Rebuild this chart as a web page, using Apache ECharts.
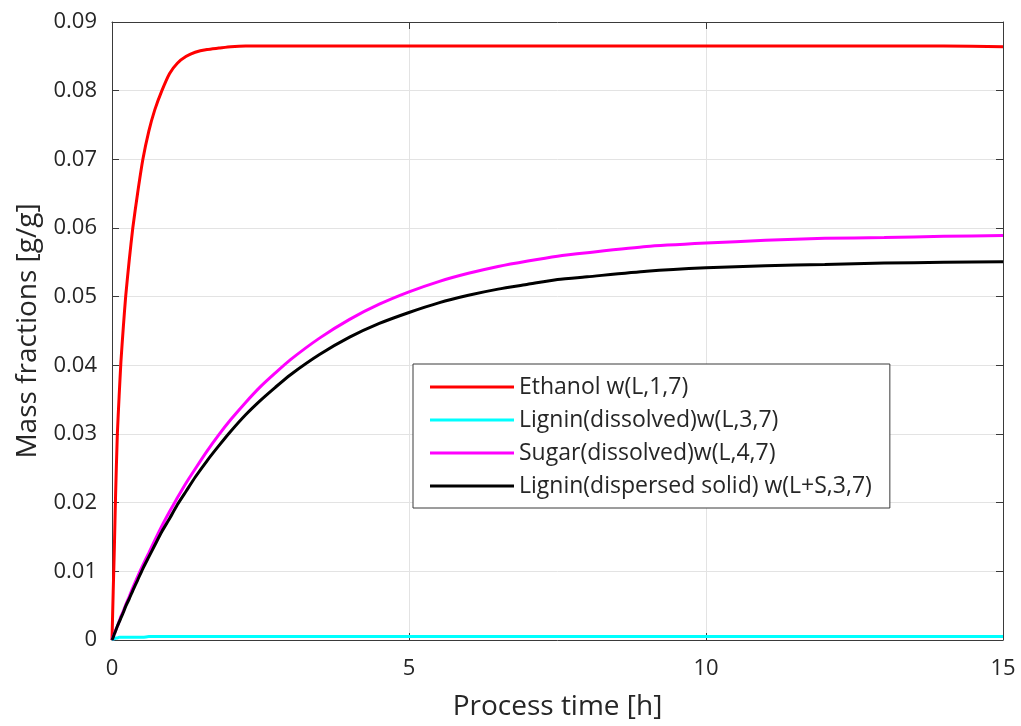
<!DOCTYPE html>
<html>
<head>
<meta charset="utf-8">
<script src="https://cdn.jsdelivr.net/npm/echarts@6/dist/echarts.min.js"></script>
<style>
  html, body { margin: 0; padding: 0; background: #ffffff; }
  #chart { width: 1021px; height: 726px; }
</style>
</head>
<body>
<div id="chart"></div>
<script>
// Process time [h] at which the mass fractions are sampled
const timeH = [0, 0.02, 0.04, 0.06, 0.09, 0.12, 0.15, 0.19, 0.23, 0.29, 0.35, 0.43, 0.52, 0.62, 0.72, 0.84, 0.97, 1.1, 1.25, 1.4, 1.6, 1.8, 2.0, 2.25, 2.5, 2.75, 3.0, 3.5, 4.0, 4.5, 5.0, 5.5, 6, 6.5, 7, 7.5, 8, 9, 10, 11, 12, 13, 14, 15];

// Mass fractions [g/g]
const ethanol = [0, 0.0070, 0.0135, 0.0210, 0.0300, 0.0355, 0.0405, 0.0455, 0.0500, 0.0553, 0.0600, 0.0650, 0.0700, 0.0741, 0.0772, 0.0800, 0.0825, 0.0840, 0.0850, 0.0856, 0.0860, 0.0862, 0.0864, 0.0865, 0.0865, 0.0865, 0.0865, 0.0865, 0.0865, 0.0865, 0.0865, 0.0865, 0.0865, 0.0865, 0.0865, 0.0865, 0.0865, 0.0865, 0.0865, 0.0865, 0.0865, 0.0865, 0.0865, 0.0864];
const ligninDissolved = [0, 0.0001, 0.0002, 0.0003, 0.0003, 0.0004, 0.0004, 0.0004, 0.0004, 0.0004, 0.0004, 0.0004, 0.0004, 0.0005, 0.0005, 0.0005, 0.0005, 0.0005, 0.0005, 0.0005, 0.0005, 0.0005, 0.0005, 0.0005, 0.0005, 0.0005, 0.0005, 0.0005, 0.0005, 0.0005, 0.0005, 0.0005, 0.0005, 0.0005, 0.0005, 0.0005, 0.0005, 0.0005, 0.0005, 0.0005, 0.0005, 0.0005, 0.0005, 0.0005];
const sugarDissolved = [0, 0.0005, 0.0009, 0.0014, 0.0020, 0.0027, 0.0034, 0.0042, 0.0051, 0.0063, 0.0076, 0.0092, 0.0109, 0.0127, 0.0145, 0.0166, 0.0187, 0.0207, 0.0229, 0.0249, 0.0275, 0.0299, 0.0321, 0.0346, 0.0369, 0.0389, 0.0408, 0.0440, 0.0467, 0.0489, 0.0507, 0.0522, 0.0534, 0.0544, 0.0552, 0.0559, 0.0564, 0.0573, 0.0578, 0.0582, 0.0585, 0.0586, 0.0588, 0.0589];
const ligninSolid = [0, 0.0004, 0.0009, 0.0013, 0.0020, 0.0026, 0.0032, 0.0040, 0.0049, 0.0060, 0.0072, 0.0087, 0.0104, 0.0121, 0.0138, 0.0158, 0.0177, 0.0197, 0.0217, 0.0237, 0.0261, 0.0283, 0.0304, 0.0328, 0.0349, 0.0368, 0.0386, 0.0416, 0.0441, 0.0461, 0.0477, 0.0491, 0.0502, 0.0511, 0.0518, 0.0525, 0.0529, 0.0537, 0.0542, 0.0545, 0.0547, 0.0549, 0.0550, 0.0551];

const seriesNames = [
  'Ethanol w(L,1,7)',
  'Lignin(dissolved)w(L,3,7)',
  'Sugar(dissolved)w(L,4,7)',
  'Lignin(dispersed solid) w(L+S,3,7)'
];
const seriesColors = ['#ff0000', '#00ffff', '#ff00ff', '#000000'];
const seriesValues = [ethanol, ligninDissolved, sugarDissolved, ligninSolid];

const FONT = '"Open Sans", "DejaVu Sans", sans-serif';
const TEXT = '#262626';
const AXIS = '#3a3a3a';

const pairs = vals => timeH.map((t, i) => [t, vals[i]]);

const tickInside = { show: true, inside: true, length: 7, lineStyle: { color: AXIS, width: 1 } };

const chart = echarts.init(document.getElementById('chart'), null, { renderer: 'canvas' });
chart.setOption({
  animation: false,
  backgroundColor: '#ffffff',
  textStyle: { fontFamily: FONT },
  grid: { left: 112, right: 18, top: 22, bottom: 79, containLabel: false },
  legend: {
    orient: 'vertical',
    left: 413,
    top: 364,
    data: seriesNames,
    icon: 'rect',
    itemWidth: 84,
    itemHeight: 3,
    itemGap: 7,
    padding: [10, 18, 9, 17],
    borderColor: '#3a3a3a',
    borderWidth: 1,
    backgroundColor: '#ffffff',
    textStyle: { fontFamily: FONT, fontSize: 23, color: TEXT, lineHeight: 26 }
  },
  xAxis: [{
    type: 'value', min: 0, max: 15, interval: 5,
    name: 'Process time [h]', nameLocation: 'middle', nameGap: 53,
    nameTextStyle: { fontFamily: FONT, fontSize: 28, color: TEXT },
    axisLine: { show: true, onZero: false, lineStyle: { color: AXIS, width: 1 } },
    axisTick: tickInside,
    axisLabel: { fontFamily: FONT, fontSize: 22, color: TEXT, margin: 18 },
    splitLine: { show: true, lineStyle: { color: '#e3e3e3', width: 1 } }
  }, {
    type: 'value', min: 0, max: 15, interval: 5, position: 'top',
    axisLine: { show: true, onZero: false, lineStyle: { color: AXIS, width: 1 } },
    axisTick: tickInside, axisLabel: { show: false }, splitLine: { show: false }
  }],
  yAxis: [{
    type: 'value', min: 0, max: 0.09, interval: 0.01,
    name: 'Mass fractions [g/g]', nameLocation: 'middle', nameGap: 70, nameRotate: 90,
    nameTextStyle: { fontFamily: FONT, fontSize: 28, color: TEXT },
    axisLine: { show: true, onZero: false, lineStyle: { color: AXIS, width: 1 } },
    axisTick: tickInside,
    axisLabel: {
      fontFamily: FONT, fontSize: 22, color: TEXT, margin: 15,
      formatter: v => (v === 0 ? '0' : v.toFixed(2))
    },
    splitLine: { show: true, lineStyle: { color: '#e3e3e3', width: 1 } }
  }, {
    type: 'value', min: 0, max: 0.09, interval: 0.01, position: 'right',
    axisLine: { show: true, onZero: false, lineStyle: { color: AXIS, width: 1 } },
    axisTick: tickInside, axisLabel: { show: false }, splitLine: { show: false }
  }],
  series: seriesNames.map((name, i) => ({
    name: name,
    type: 'line',
    xAxisIndex: 0,
    yAxisIndex: 0,
    data: pairs(seriesValues[i]),
    showSymbol: false,
    smooth: 0.2,
    color: seriesColors[i],
    lineStyle: { color: seriesColors[i], width: 3 },
    z: 2 + i
  }))
});
</script>
</body>
</html>
